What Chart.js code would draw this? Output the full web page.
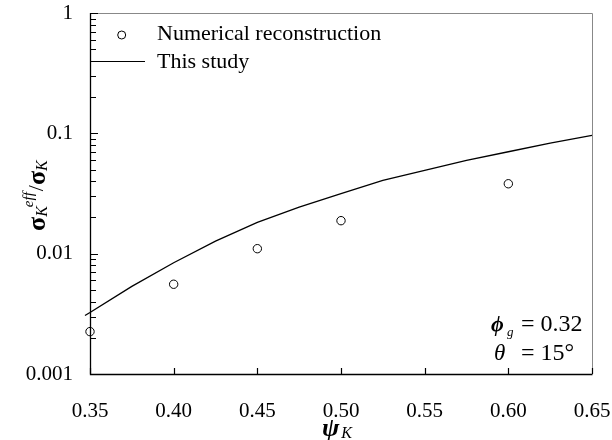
<!DOCTYPE html>
<html>
<head>
<meta charset="utf-8">
<script src="https://cdn.jsdelivr.net/npm/chart.js@4.4.1/dist/chart.umd.min.js"></script>
<style>
  html, body { margin: 0; padding: 0; background: #fff; }
  #wrap { width: 612px; height: 440px; }
</style>
</head>
<body>
<div id="wrap"><canvas id="chart" width="612" height="440"></canvas></div>
<script>
// numerical reconstruction (circles)
const xPoints = [0.35, 0.40, 0.45, 0.50, 0.60];
const yPoints = [0.00225, 0.00557, 0.0110, 0.0188, 0.0381];

// this study (solid line), runs a little past the frame on both ends
const xLine = [0.347, 0.35, 0.375, 0.40, 0.425, 0.45, 0.475, 0.50, 0.525, 0.55, 0.575, 0.60, 0.625, 0.65, 0.655];
const yLine = [0.00306, 0.00324, 0.00535, 0.0084, 0.0127, 0.0182, 0.0244, 0.0316, 0.0407, 0.0493, 0.0596, 0.0703, 0.083, 0.0961, 0.0993];

const xTicks = [0.35, 0.40, 0.45, 0.50, 0.55, 0.60, 0.65];
const yTicks = [0.001, 0.01, 0.1, 1];

const serif = '"Liberation Serif", "Times New Roman", serif';

let pointData = xPoints.map((x, i) => ({ x: x, y: yPoints[i] }));
let lineData = xLine.map((x, i) => ({ x: x, y: yLine[i] }));

// frame, ticks, titles, legend and note
const decor = {
    id: 'decor',
    afterDraw(chart) {
        const ctx = chart.ctx;
        const a = chart.chartArea;
        const xs = chart.scales.x;
        const ys = chart.scales.y;
        ctx.save();

        // top and right edges grey
        ctx.strokeStyle = '#888';
        ctx.lineWidth = 1;
        ctx.beginPath();
        ctx.moveTo(a.left, a.top + 0.5);
        ctx.lineTo(a.right + 0.5, a.top + 0.5);
        ctx.lineTo(a.right + 0.5, a.bottom);
        ctx.stroke();

        // left and bottom black
        ctx.strokeStyle = '#000';
        ctx.lineWidth = 1.3;
        ctx.beginPath();
        ctx.moveTo(a.left + 0.5, a.top);
        ctx.lineTo(a.left + 0.5, a.bottom + 0.5);
        ctx.lineTo(a.right + 0.5, a.bottom + 0.5);
        ctx.stroke();

        // inward ticks
        ctx.strokeStyle = '#000';
        ctx.lineWidth = 1.2;
        ctx.beginPath();
        xTicks.forEach(v => {
            let px = Math.round(xs.getPixelForValue(v)) + 0.5;
            ctx.moveTo(px, a.bottom);
            ctx.lineTo(px, a.bottom - 6);
        });
        yTicks.forEach(dec => {
            for (let m = 1; m <= 9; m++) {
                let v = dec * m;
                if (v > 1.0001) break;
                let py = Math.round(ys.getPixelForValue(v)) + 0.5;
                let len = m == 1 ? 8 : 6;
                ctx.moveTo(a.left, py);
                ctx.lineTo(a.left + len, py);
            }
        });
        ctx.stroke();

        ctx.fillStyle = '#000';
        ctx.textBaseline = 'alphabetic';
        ctx.textAlign = 'left';

        // y title, rotated
        ctx.save();
        ctx.translate(45, 231);
        ctx.rotate(-Math.PI / 2);
        let x = 0;
        const piece = (t, font, dy) => {
            ctx.font = font;
            ctx.fillText(t, x, dy);
            x += ctx.measureText(t).width;
        };
        piece('\u03c3', 'bold 26px ' + serif, 0);
        piece('K', 'italic 16px ' + serif, 2);
        x -= 1;
        piece('eff', 'italic 15px ' + serif, -12);
        x += 1;
        piece('/', '22px ' + serif, -2);
        piece('\u03c3', 'bold 26px ' + serif, 0);
        piece('K', 'italic 16px ' + serif, 2);
        ctx.restore();

        // x title
        ctx.font = 'bold italic 26px ' + serif;
        ctx.fillText('\u03c8', 322, 436);
        let w = ctx.measureText('\u03c8').width;
        ctx.font = 'italic 16px ' + serif;
        ctx.fillText('K', 322 + w + 2, 438);

        // legend
        ctx.beginPath();
        ctx.arc(121.7, 35, 4, 0, Math.PI * 2);
        ctx.fillStyle = '#fff';
        ctx.fill();
        ctx.strokeStyle = '#000';
        ctx.lineWidth = 1;
        ctx.stroke();
        ctx.beginPath();
        ctx.moveTo(90, 61.5);
        ctx.lineTo(145, 61.5);
        ctx.stroke();
        ctx.fillStyle = '#000';
        ctx.font = '22px ' + serif;
        ctx.fillText('Numerical reconstruction', 157, 40);
        ctx.fillText('This study', 157, 68);

        // note
        ctx.font = 'bold italic 22px ' + serif;
        ctx.fillText('\u03d5', 491, 331);
        ctx.font = 'italic 13px ' + serif;
        ctx.fillText('g', 507, 336);
        ctx.font = '24px ' + serif;
        ctx.fillText('= 0.32', 521, 331);
        ctx.font = 'italic 23px ' + serif;
        ctx.fillText('\u03b8', 494, 360);
        ctx.font = '24px ' + serif;
        ctx.fillText('= 15\u00b0', 521, 360);

        ctx.restore();
    }
};

let config = {
    type: 'scatter',
    data: {
        datasets: [{
            label: 'This study',
            data: lineData,
            showLine: true,
            borderColor: '#000',
            borderWidth: 1.3,
            pointRadius: 0,
            fill: false,
            clip: false
        }, {
            label: 'Numerical reconstruction',
            data: pointData,
            showLine: false,
            pointRadius: 4.2,
            pointBorderWidth: 1,
            pointBorderColor: '#000',
            pointBackgroundColor: '#fff',
            clip: false
        }]
    },
    options: {
        responsive: false,
        animation: false,
        layout: {
            padding: { left: 0, right: 20, top: 13, bottom: 0 }
        },
        plugins: {
            legend: { display: false },
            tooltip: { enabled: false }
        },
        scales: {
            x: {
                type: 'linear',
                min: 0.35,
                max: 0.65,
                afterFit: (scale) => {
                    scale.height = 66;
                    scale.paddingLeft = 0;
                    scale.paddingRight = 0;
                },
                afterBuildTicks: (scale) => {
                    scale.ticks = xTicks.map(v => ({ value: v }));
                },
                grid: { display: false, drawTicks: false },
                border: { display: false },
                ticks: {
                    padding: 25,
                    color: '#000',
                    font: { family: serif, size: 21 },
                    maxRotation: 0,
                    callback: (v) => v.toFixed(2)
                }
            },
            y: {
                type: 'logarithmic',
                min: 0.001,
                max: 1,
                afterFit: (scale) => {
                    scale.width = 90;
                    scale.paddingTop = 0;
                    scale.paddingBottom = 0;
                },
                afterBuildTicks: (scale) => {
                    scale.ticks = yTicks.map(v => ({ value: v }));
                },
                grid: { display: false, drawTicks: false },
                border: { display: false },
                ticks: {
                    padding: 17,
                    color: '#000',
                    font: { family: serif, size: 21 },
                    autoSkip: false,
                    callback: (v) => String(v)
                }
            }
        }
    },
    plugins: [decor]
};

let chart = new Chart(document.querySelector('#chart').getContext('2d'), config);
</script>
</body>
</html>
